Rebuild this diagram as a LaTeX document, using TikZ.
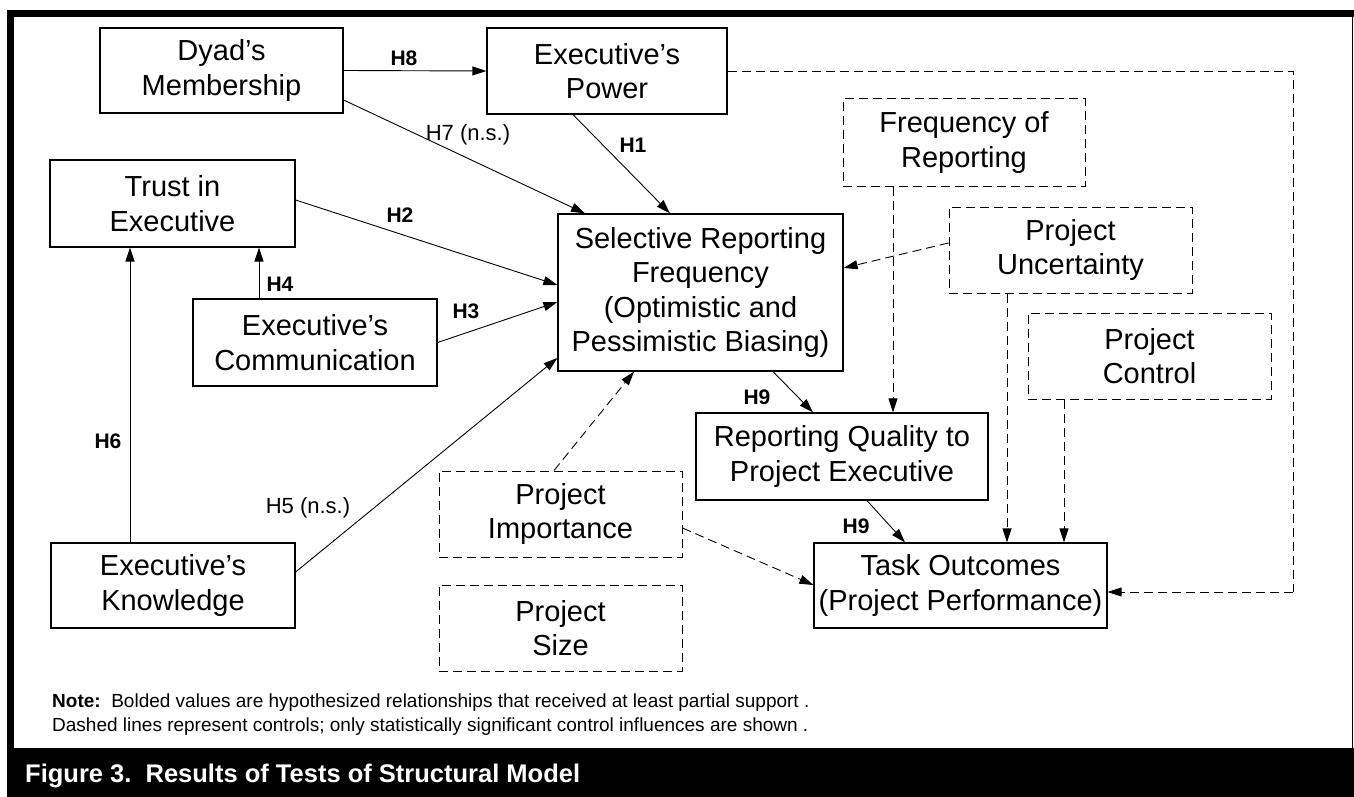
\documentclass[tikz,border=0pt]{standalone}
\usepackage{fontspec}
\setmainfont{Liberation Sans}
\usetikzlibrary{arrows.meta,calc}
\newcommand{\boxfont}{\fontsize{29pt}{34.5pt}\selectfont}
\newcommand{\labfont}{\fontsize{21pt}{24pt}\selectfont}
\newcommand{\nlabfont}{\fontsize{22pt}{26pt}\selectfont}
\newcommand{\notefont}{\fontsize{19pt}{22pt}\selectfont}
\newcommand{\capfont}{\fontsize{25.5pt}{30pt}\selectfont\bfseries}
\begin{document}
\begin{tikzpicture}[x=1pt,y=-1pt,
  box/.style={draw, line width=1.2pt, inner sep=0pt, align=center, font=\boxfont, execute at begin node={\rule{0pt}{28pt}}},
  dbox/.style={box, line width=1pt, dash pattern=on 9pt off 5pt},
  arr/.style={-{Triangle[length=14pt,width=9pt]}, line width=0.9pt},
  darr/.style={arr, dash pattern=on 9pt off 5pt},
  dline/.style={line width=0.9pt, dash pattern=on 9pt off 5pt},
  lab/.style={font=\labfont\bfseries, inner sep=0pt},
  nlab/.style={font=\nlabfont, inner sep=0pt}]
\useasboundingbox (0,0) rectangle (1354,797);
% frame
\fill[black] (7,10) rectangle (1354,17);
\fill[black] (7,10) rectangle (14,797);
\fill[black] (7,748) rectangle (1354,797);
\draw[line width=1pt] (1352,17) -- (1352,748);
\node[anchor=base west, text=white, font=\capfont, inner sep=0pt] (cap) at (25,782) {Figure 3.\ \ Results of Tests of Structural Model};
% solid boxes
\node[box, minimum width=243pt, minimum height=85pt] (dyad) at (221.5,70.5) {Dyad’s\\Membership};
\node[box, minimum width=240pt, minimum height=86pt] (power) at (607,71) {Executive’s\\Power};
\node[box, minimum width=245pt, minimum height=87pt] (trust) at (172.5,203.5) {Trust in\\Executive};
\node[box, minimum width=244pt, minimum height=87pt] (comm) at (315,342.5) {Executive’s\\Communication};
\node[box, minimum width=285pt, minimum height=157pt] (sel) at (700.5,292.5) {Selective Reporting\\Frequency\\(Optimistic and\\Pessimistic Biasing)};
\node[box, minimum width=244pt, minimum height=85pt] (know) at (173,585.5) {Executive’s\\Knowledge};
\node[box, minimum width=292pt, minimum height=87pt] (rq) at (842,456.5) {Reporting Quality to\\Project Executive};
\node[box, minimum width=293pt, minimum height=85pt] (task) at (960.5,585.5) {Task Outcomes\\(Project Performance)};
% dashed boxes
\node[dbox, minimum width=242pt, minimum height=87pt] (freq) at (964,142.5) {Frequency of\\Reporting};
\node[dbox, minimum width=243pt, minimum height=86pt] (unc) at (1070.5,250) {Project\\Uncertainty};
\node[dbox, minimum width=243pt, minimum height=86pt] (ctrl) at (1149.5,356) {Project\\Control};
\node[dbox, minimum width=243pt, minimum height=86pt] (imp) at (560.5,514) {Project\\Importance};
\node[dbox, minimum width=243pt, minimum height=86pt] (size) at (560.5,628) {Project\\Size};
% solid connectors
\draw[arr] (dyad.east) -- (power.west);
\draw[arr] ([yshift=-29.5pt]dyad.east) -- ([xshift=-115.5pt]sel.north);
\draw[arr] ([xshift=-34pt]power.south) -- ([xshift=-30.5pt]sel.north);
\draw[arr] ([yshift=3.5pt]trust.east) -- ([yshift=7.5pt]sel.west);
\draw[arr] (comm.east) -- ([yshift=-9.5pt]sel.west);
\draw[arr] ([xshift=-56pt]comm.north) -- ([xshift=-56pt]comm.north |- trust.south);
\draw[arr] ([xshift=-43pt]know.north) -- ([xshift=-43pt]know.north |- trust.south);
\draw[arr] ([yshift=13.5pt]know.east) -- ([yshift=-65.5pt]sel.west);
\draw[arr] ([xshift=72.5pt]sel.south) -- ([xshift=-29pt]rq.north);
\draw[arr] ([xshift=25pt]rq.south) -- ([xshift=-55.5pt]task.north);
% dashed connectors
\coordinate (rt) at (1293,592);
\draw[dline] (power.east) -| (rt);
\draw[darr] (rt) -- ([yshift=-6.5pt]task.east);
\draw[darr] ([xshift=-71pt]freq.south) -- ([xshift=-71pt]freq.south |- rq.north);
\draw[darr] ([xshift=-63.5pt]unc.south) -- ([xshift=-63.5pt]unc.south |- task.north);
\draw[darr] ([xshift=-85.5pt]ctrl.south) -- ([xshift=-85.5pt]ctrl.south |- task.north);
\draw[darr] ([yshift=7pt]unc.west) -- ([yshift=24.5pt]sel.east);
\draw[darr] ([xshift=-6.5pt]imp.north) -- ([xshift=-66.5pt]sel.south);
\draw[darr] ([yshift=-14pt]imp.east) -- ([yshift=0.5pt]task.west);
% labels
\node[lab] (l8) at (404,58) {H8};
\node[nlab] (l7) at (468,135) {H7 (n.s.)};
\node[lab] (l1) at (633,145) {H1};
\node[lab] (l2) at (400,215) {H2};
\node[lab] (l3) at (466,311) {H3};
\node[lab] (l4) at (280,284) {H4};
\node[lab] (l6) at (108,441) {H6};
\node[nlab] (l5) at (308,508) {H5 (n.s.)};
\node[lab] (l9a) at (757,397) {H9};
\node[lab] (l9b) at (856,526) {H9};
% note
\node[anchor=base west, font=\notefont, inner sep=0pt] (note1) at (52,707) {\textbf{Note:}\ \ Bolded values are hypothesized relationships that received at least partial support .};
\node[anchor=base west, font=\notefont, inner sep=0pt] (note2) at (52,731) {Dashed lines represent controls; only statistically significant control influences are shown .};
\end{tikzpicture}
\end{document}
